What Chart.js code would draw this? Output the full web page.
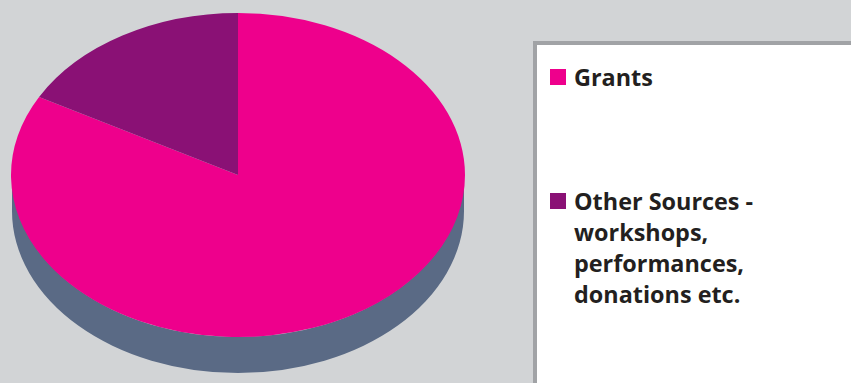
<!DOCTYPE html>
<html>
<head>
<meta charset="utf-8">
<title>Funding sources</title>
<script src="https://cdn.jsdelivr.net/npm/chart.js@4/dist/chart.umd.min.js"></script>
<style>
  html, body { margin: 0; padding: 0; width: 851px; height: 383px; overflow: hidden; background: #d2d4d6; }
  #pie { position: absolute; left: 0; top: 0; }
  #panel { position: absolute; left: 533px; top: 41px; width: 340px; height: 370px;
           box-sizing: border-box; background: #fff; border: 4px solid #a1a3a6; }
  .entry { position: absolute; left: 13px; width: 260px; font: 700 23.4px/31px "Open Sans", sans-serif;
           color: #231f20; padding-left: 24px; }
  .swatch { position: absolute; left: 0; top: 7px; width: 16px; height: 16px; }
</style>
</head>
<body>
<canvas id="pie" width="851" height="383"></canvas>
<div id="panel"></div>
<script>
const categories = ["Grants", "Other Sources - workshops, performances, donations etc."];
const legendLines = [["Grants"], ["Other Sources -", "workshops,", "performances,", "donations etc."]];
const shares = [83, 17];
const sliceColors = ["#ee008c", "#8a1175"];
const wallColor = "#5a6a85";

// Tilted disc: ellipse centre and radii, plus the thickness of the rim.
const disc = { cx: 238, cy: 175, rx: 227, ry: 162, depth: 36, wallInset: 1 };

// Squashes the round pie into an ellipse and paints the rim underneath it.
const tiltedDisc = {
  id: "tiltedDisc",
  beforeDatasetsDraw(chart) {
    const ctx = chart.ctx;
    const rx = disc.rx - disc.wallInset;
    ctx.save();
    ctx.fillStyle = wallColor;
    ctx.beginPath();
    ctx.ellipse(disc.cx, disc.cy, rx, disc.ry, 0, Math.PI, 0, true);
    ctx.ellipse(disc.cx, disc.cy + disc.depth, rx, disc.ry, 0, 0, Math.PI, false);
    ctx.closePath();
    ctx.fill();
    ctx.restore();
  },
  beforeDatasetDraw(chart, args) {
    const arc = chart.getDatasetMeta(args.index).data[0];
    const r = arc.outerRadius;
    const ctx = chart.ctx;
    ctx.save();
    ctx.translate(disc.cx, disc.cy);
    ctx.scale(disc.rx / r, disc.ry / r);
    ctx.translate(-arc.x, -arc.y);
  },
  afterDatasetDraw(chart) {
    chart.ctx.restore();
  }
};

new Chart(document.getElementById("pie"), {
  type: "pie",
  data: {
    labels: categories,
    datasets: [{ data: shares, backgroundColor: sliceColors, borderWidth: 0 }]
  },
  options: {
    responsive: false,
    animation: false,
    plugins: { legend: { display: false }, tooltip: { enabled: false } }
  },
  plugins: [tiltedDisc]
});

// Key panel on the right, built from the same category order as the pie.
const entryTops = [17, 141];
const panel = document.getElementById("panel");
legendLines.forEach((lines, i) => {
  const entry = document.createElement("div");
  entry.className = "entry";
  entry.style.top = entryTops[i] + "px";
  const swatch = document.createElement("span");
  swatch.className = "swatch";
  swatch.style.background = sliceColors[i];
  entry.appendChild(swatch);
  lines.forEach(line => {
    const row = document.createElement("div");
    row.textContent = line;
    entry.appendChild(row);
  });
  panel.appendChild(entry);
});
</script>
</body>
</html>
